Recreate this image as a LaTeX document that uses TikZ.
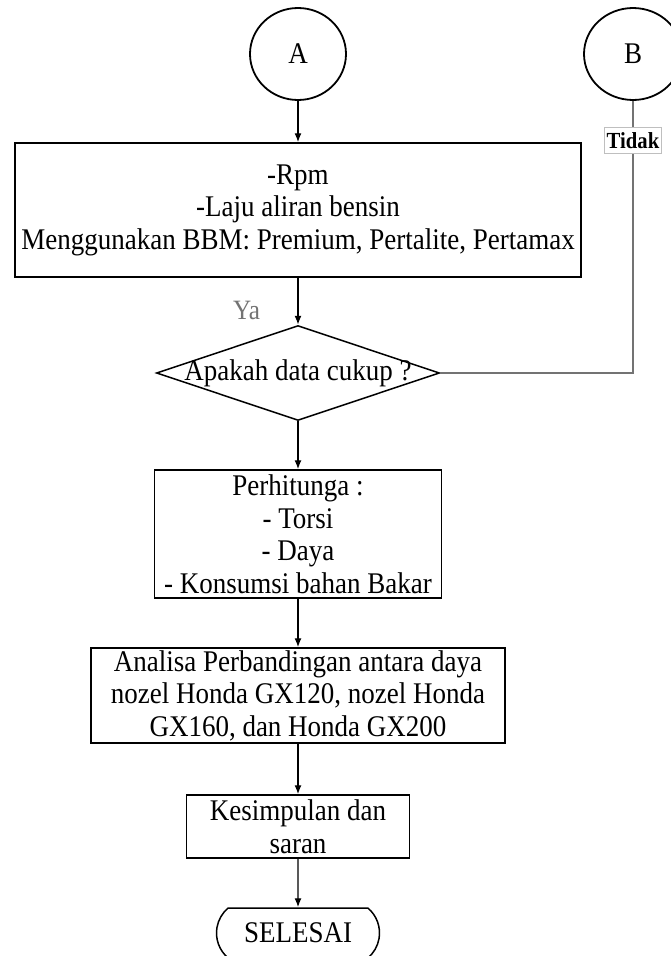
\documentclass[tikz,border=0pt]{standalone}
\usepackage{fontspec}
\setmainfont[FakeStretch=0.9]{Liberation Serif}
\usetikzlibrary{shapes.geometric,shapes.misc,arrows.meta}

\begin{document}
\begin{tikzpicture}[x=1pt, y=1pt,
  font=\fontsize{30}{32.5}\selectfont,
  kotak/.style={draw, line width=1.5pt, align=center, inner sep=0pt},
  bulat/.style={draw, ellipse, line width=1.8pt, minimum width=96pt, minimum height=92pt, inner sep=0pt},
  panah/.style={-{Latex[length=9pt,width=7pt]}, line width=1.3pt}]
  \useasboundingbox (0,0) rectangle (670,-956);

  \node[bulat] (A) at (298,-54) {A};
  \node[bulat, minimum width=98pt] (B) at (633,-54) {B};

  \node[kotak, minimum width=566pt, minimum height=134pt] (rpm) at (298,-210)
    {-Rpm\\-Laju aliran bensin\\Menggunakan BBM: Premium, Pertalite, Pertamax};
  \node[draw, diamond, line width=1.5pt, shape aspect=3, inner xsep=-14pt, inner ysep=0pt,
    minimum width=283pt, minimum height=95pt] (cek) at (298,-373) {Apakah data cukup ?};
  \node[kotak, minimum width=287pt, minimum height=128pt] (hitung) at (298,-534)
    {Perhitunga :\\- Torsi\\- Daya\\- Konsumsi bahan Bakar};
  \node[kotak, minimum width=414pt, minimum height=95pt] (analisa) at (298,-695.5)
    {Analisa Perbandingan antara daya\\nozel Honda GX120, nozel Honda\\GX160, dan Honda GX200};
  \node[kotak, minimum width=223pt, minimum height=63pt] (simpul) at (298,-826.5)
    {Kesimpulan dan\\saran};
  \node[draw, rounded rectangle, rounded rectangle arc length=100, line width=1.5pt,
    minimum width=163pt, minimum height=50pt, inner sep=0pt] (selesai) at (298,-933) {SELESAI};

  \draw[panah] (A) -- (rpm);
  \draw[panah] (rpm) -- node[pos=0.7, left=34pt, text=black!55, font=\fontsize{28}{30}\selectfont] (ya) {Ya} (cek);
  \draw[panah] (cek) -- (hitung);
  \draw[panah] (hitung) -- (analisa);
  \draw[panah] (analisa) -- (simpul);
  \draw[panah] (simpul) -- (selesai);
  \draw[black!55, line width=1.5pt] (B) -- node[pos=0.147, fill=white, draw=black!25, text=black, line width=1pt,
    inner xsep=2.5pt, inner ysep=5pt, font=\bfseries\fontsize{23}{25}\selectfont] (tidak) {Tidak} (B |- cek.east) -- (cek.east);
\end{tikzpicture}
\end{document}
